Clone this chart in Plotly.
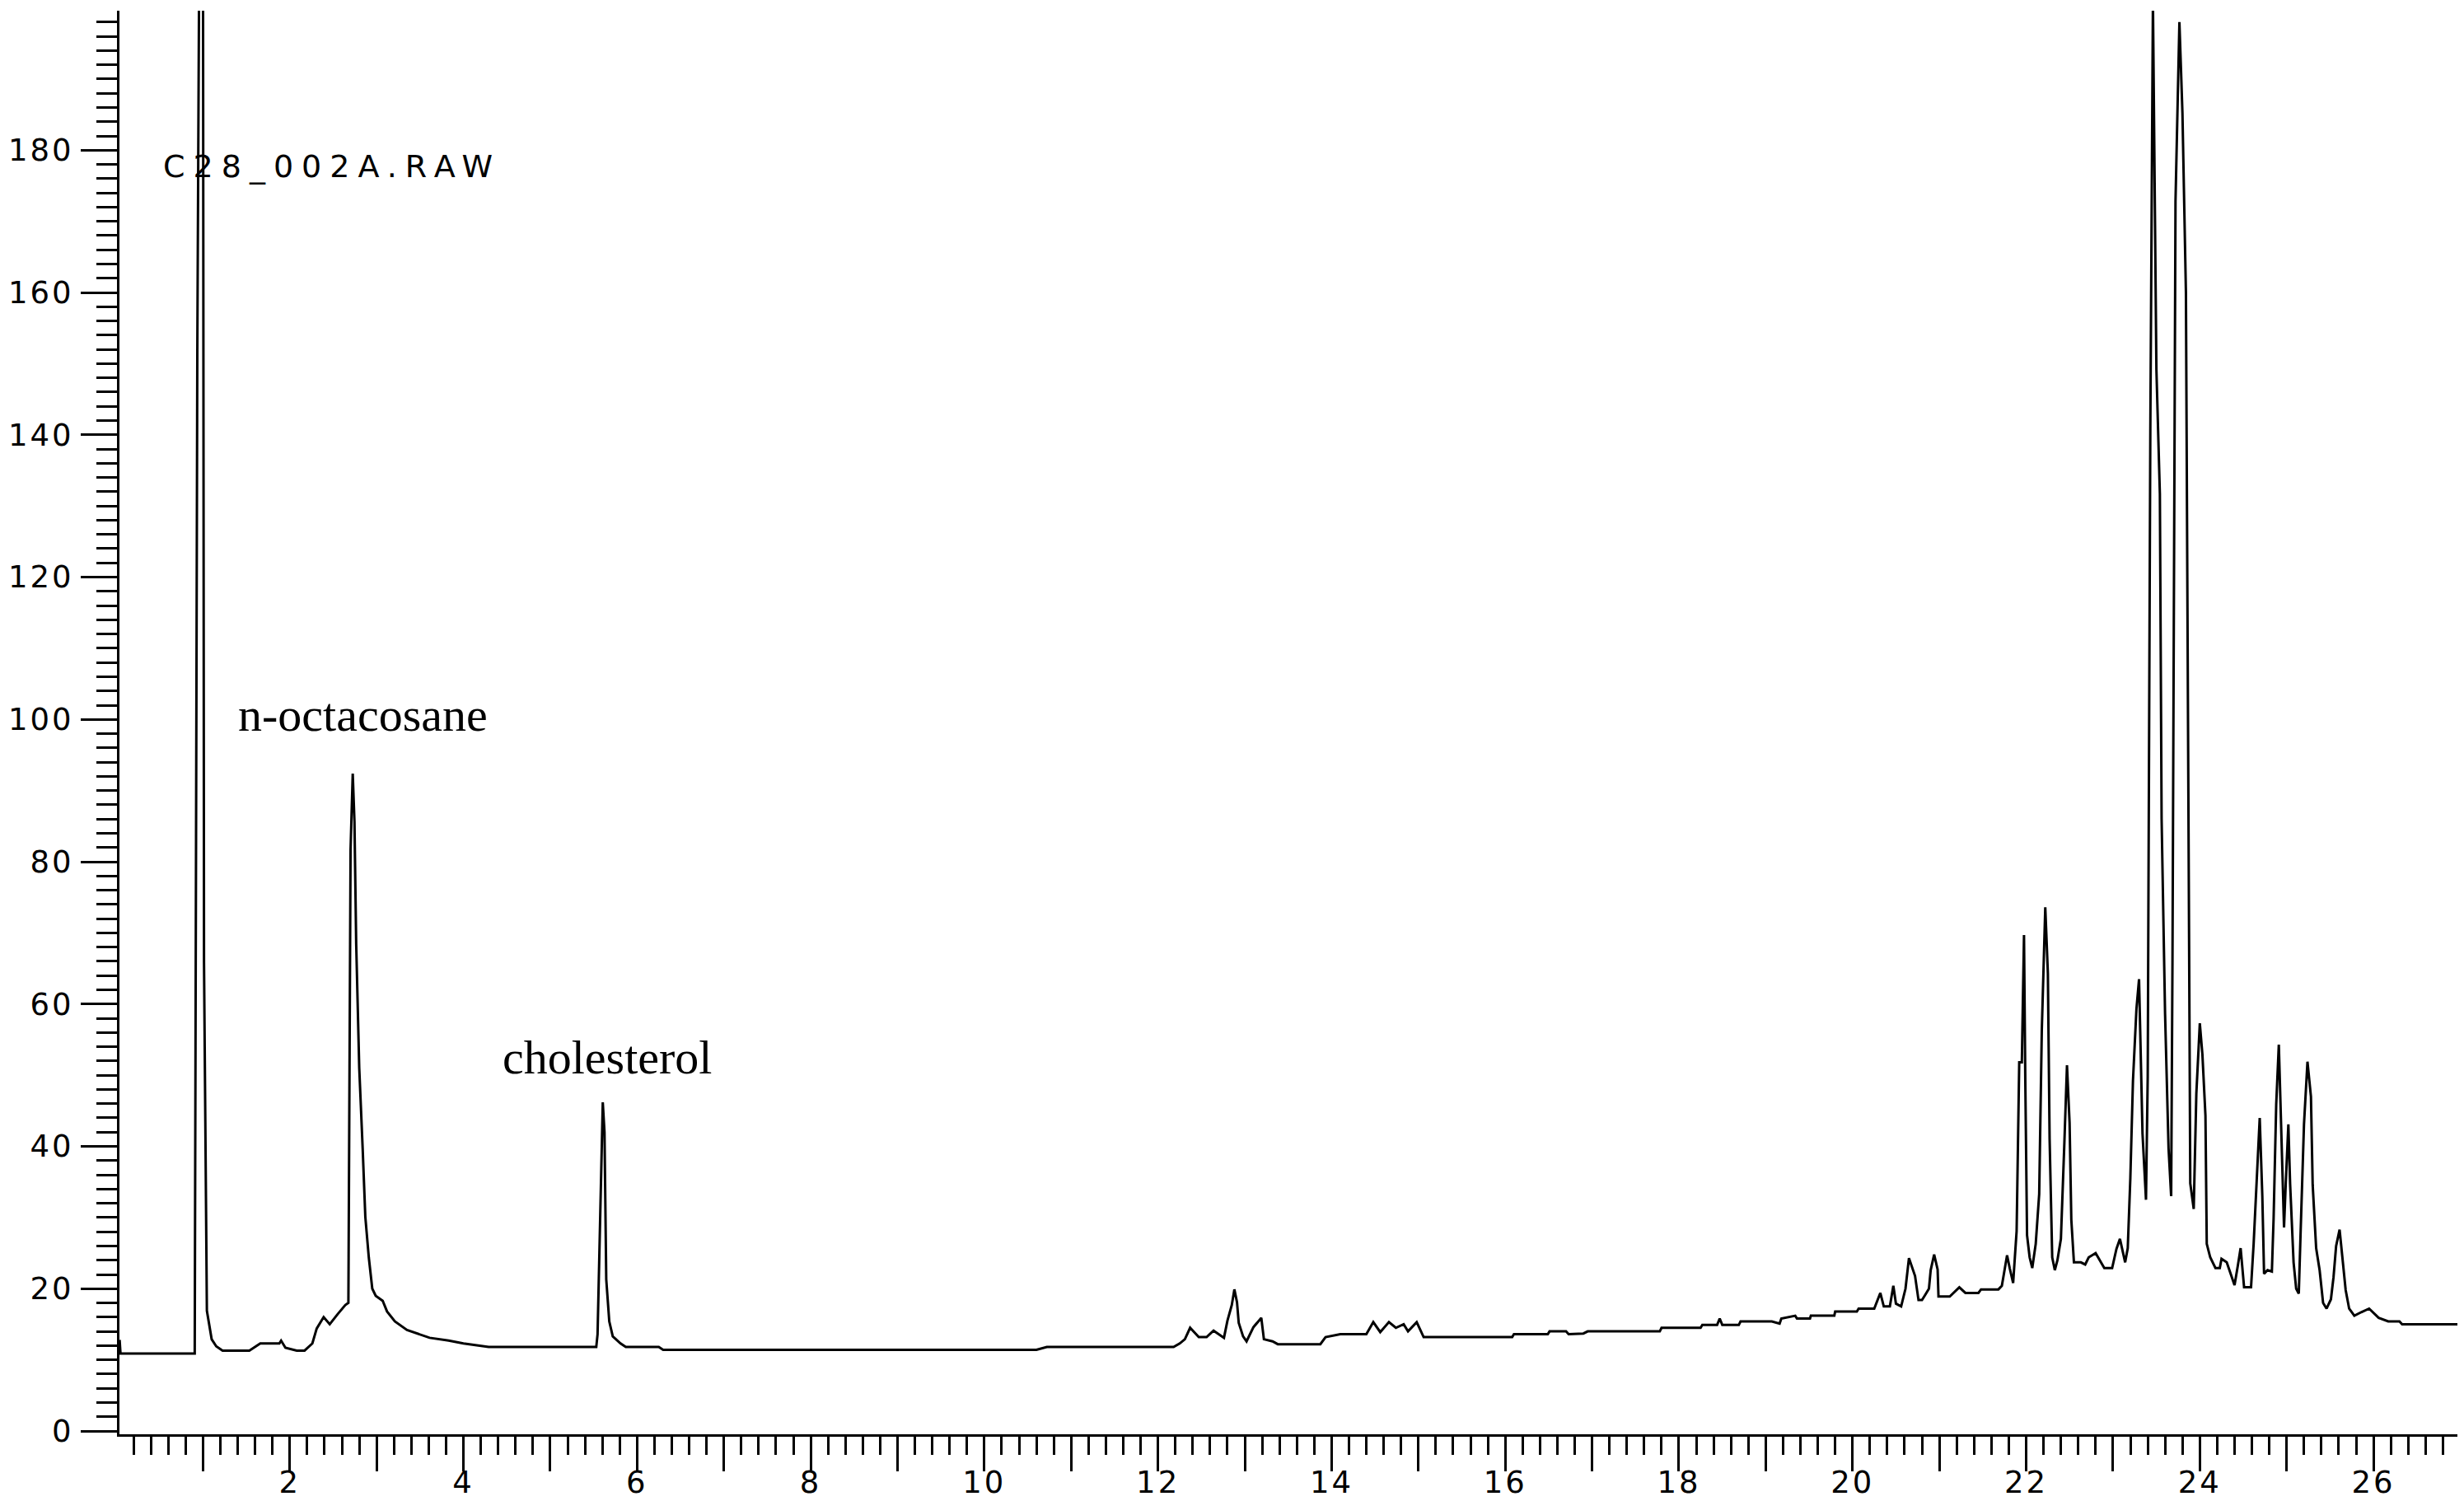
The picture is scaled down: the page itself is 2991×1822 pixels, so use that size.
import plotly.graph_objects as go

# ---------------- data ----------------
retention_time = [
    0.04, 0.05, 0.905, 0.915, 0.935, 0.96, 1.00, 1.012, 1.045, 1.10, 1.153, 1.226, 1.534,
    1.66, 1.88, 1.90, 1.95, 2.08, 2.17, 2.26, 2.31, 2.39, 2.46, 2.55, 2.64, 2.675,
    2.685, 2.70, 2.725, 2.745, 2.765, 2.80, 2.84, 2.87, 2.91, 2.95, 2.99, 3.07, 3.12,
    3.21, 3.35, 3.46, 3.61, 3.83, 4.00, 4.29, 5.53, 5.545, 5.575, 5.605, 5.625, 5.645,
    5.68, 5.72, 5.81, 5.87, 6.25, 6.30, 10.60, 10.72, 12.18, 12.25, 12.31, 12.37, 12.47,
    12.56, 12.64, 12.76, 12.80, 12.85, 12.88, 12.91, 12.93, 12.98, 13.02, 13.10, 13.19,
    13.22, 13.32, 13.38, 13.87, 13.93, 14.10, 14.40, 14.48, 14.56, 14.66, 14.74, 14.83,
    14.88, 14.98, 15.06, 16.08, 16.10, 16.49, 16.51, 16.70, 16.73, 16.90, 16.95, 17.78,
    17.80, 18.25, 18.27, 18.44, 18.47, 18.50, 18.69, 18.71, 19.07, 19.16, 19.18, 19.34,
    19.36, 19.51, 19.52, 19.79, 19.80, 20.05, 20.07, 20.25, 20.32, 20.36, 20.43, 20.47,
    20.50, 20.56, 20.61, 20.65, 20.68, 20.72, 20.76, 20.80, 20.83, 20.88, 20.90, 20.94,
    20.98, 20.99, 21.12, 21.23, 21.30, 21.45, 21.48, 21.68, 21.72, 21.75, 21.78, 21.81,
    21.85, 21.89, 21.92, 21.95, 21.975, 21.99, 22.01, 22.04, 22.07, 22.11, 22.15, 22.18,
    22.22, 22.25, 22.27, 22.30, 22.33, 22.36, 22.40, 22.44, 22.47, 22.50, 22.52, 22.55,
    22.63, 22.68, 22.72, 22.80, 22.90, 22.99, 23.04, 23.08, 23.14, 23.17, 23.20, 23.23,
    23.27, 23.30, 23.34, 23.38, 23.40, 23.43, 23.46, 23.50, 23.54, 23.56, 23.60, 23.64,
    23.67, 23.685, 23.72, 23.765, 23.80, 23.84, 23.89, 23.93, 23.96, 24.00, 24.03, 24.065,
    24.08, 24.12, 24.15, 24.18, 24.23, 24.25, 24.31, 24.36, 24.40, 24.44, 24.47, 24.51,
    24.59, 24.62, 24.66, 24.69, 24.72, 24.74, 24.78, 24.83, 24.85, 24.88, 24.91, 24.94,
    24.97, 24.99, 25.02, 25.04, 25.08, 25.11, 25.14, 25.16, 25.20, 25.24, 25.28, 25.30,
    25.34, 25.38, 25.42, 25.46, 25.51, 25.54, 25.57, 25.61, 25.64, 25.68, 25.72, 25.78,
    25.86, 25.95, 26.06, 26.17, 26.30, 26.33, 26.97,
]
intensity = [
    12.8, 10.9, 10.9, 58.0, 152.0, 215.0, 215.0, 65.8, 16.9, 12.9, 11.9, 11.3, 11.3,
    12.3, 12.3, 12.7, 11.7, 11.3, 11.3, 12.3, 14.4, 16.0, 15.0, 16.4, 17.7, 18.0,
    44.3, 81.7, 92.4, 85.6, 68.4, 51.0, 39.5, 30.1, 24.4, 20.0, 19.0, 18.3, 16.8,
    15.4, 14.2, 13.7, 13.1, 12.7, 12.3, 11.8, 11.8, 13.6, 31.0, 46.2, 42.0, 21.3,
    15.4, 13.3, 12.3, 11.8, 11.8, 11.4, 11.4, 11.8, 11.8, 12.3, 12.9, 14.5, 13.2,
    13.2, 14.1, 13.1, 15.5, 17.7, 19.9, 18.1, 15.2, 13.3, 12.6, 14.6, 15.9,
    12.9, 12.6, 12.2, 12.2, 13.2, 13.6, 13.6, 15.3, 13.9, 15.3, 14.5, 15.0,
    14.0, 15.3, 13.2, 13.2, 13.6, 13.6, 14.0, 14.0, 13.6, 13.7, 14.0, 14.0,
    14.5, 14.5, 14.9, 14.9, 15.8, 14.9, 14.9, 15.4, 15.4, 15.1, 15.8, 16.2,
    15.8, 15.8, 16.2, 16.2, 16.8, 16.8, 17.2, 17.2, 19.4, 17.5, 17.5, 20.4,
    17.9, 17.5, 20.0, 24.3, 23.3, 21.8, 18.4, 18.4, 19.0, 20.0, 22.6, 24.8,
    22.7, 18.9, 18.9, 20.2, 19.4, 19.4, 19.9, 19.9, 20.4, 22.6, 24.7, 22.9,
    20.8, 28.1, 51.8, 51.8, 69.7, 49.2, 27.5, 24.4, 22.9, 26.3, 33.3, 56.3,
    73.6, 64.3, 41.0, 24.4, 22.6, 24.0, 27.0, 40.5, 51.4, 43.3, 29.7, 23.7,
    23.7, 23.4, 24.4, 25.0, 22.9, 22.9, 25.6, 27.0, 23.7, 25.7, 35.6, 49.2,
    59.3, 63.5, 41.8, 32.5, 49.8, 140.8, 201.0, 149.2, 131.7, 86.0, 58.6, 39.7,
    33.0, 65.8, 172.8, 198.0, 185.2, 160.0, 34.8, 31.2, 47.4, 57.3, 52.9, 44.3,
    26.3, 24.4, 23.7, 22.9, 22.9, 24.2, 23.7, 21.8, 20.5, 23.4, 25.7, 20.2,
    20.2, 26.3, 37.4, 44.0, 33.0, 22.1, 22.6, 22.4, 29.9, 45.9, 54.3, 41.2,
    28.6, 34.8, 43.1, 34.8, 23.7, 20.0, 19.3, 27.5, 43.1, 51.9, 47.0, 34.6,
    25.7, 22.6, 18.0, 17.2, 18.5, 21.6, 26.0, 28.3, 24.7, 19.8, 17.2, 16.2,
    16.7, 17.2, 15.9, 15.4, 15.4, 15.0, 15.0,
]

x_major_ticks = list(range(1, 28))
x_tick_labels = [str(v) if v % 2 == 0 else "" for v in x_major_ticks]
y_major_ticks = list(range(0, 200, 10))
y_tick_labels = [str(v) if v % 20 == 0 else "" for v in y_major_ticks]
y_minor_ticks = list(range(0, 200, 2))

peak_names = ["n-octacosane", "cholesterol"]
file_name = "C28_002A.RAW"


def spaced(text, px):
    return f'<span style="letter-spacing:{px}px">{text}</span>' if text else ""


fig = go.Figure(
    go.Scatter(
        x=retention_time,
        y=intensity,
        mode="lines",
        line=dict(color="black", width=3),
        hoverinfo="skip",
    )
)

tick_font = dict(family="DejaVu Sans", size=37, color="black")

fig.update_layout(
    width=2991,
    height=1822,
    margin=dict(l=137, r=12, t=5, b=89, pad=0),
    paper_bgcolor="white",
    plot_bgcolor="white",
    showlegend=False,
    xaxis=dict(
        range=[0.038, 27.005],
        showline=True, linecolor="black", linewidth=3,
        showgrid=False, zeroline=False,
        ticks="outside", tickmode="array",
        tickvals=x_major_ticks,
        ticktext=[spaced(t, 3) for t in x_tick_labels],
        ticklen=42, tickwidth=3, tickcolor="black",
        tickfont=tick_font,
        ticklabelstandoff=-18,
        minor=dict(ticks="outside", ticklen=22, tickwidth=3, tickcolor="black",
                   tickmode="linear", tick0=0, dtick=0.2, showgrid=False),
        automargin=False,
    ),
    yaxis=dict(
        range=[-0.46, 199.6],
        showline=True, linecolor="black", linewidth=3,
        showgrid=False, zeroline=False,
        ticks="outside", tickmode="array",
        tickvals=y_major_ticks,
        ticktext=[spaced(t, 3) for t in y_tick_labels],
        ticklen=44, tickwidth=3, tickcolor="black",
        tickfont=tick_font,
        ticklabelstandoff=1,
        minor=dict(ticks="outside", ticklen=25, tickwidth=3, tickcolor="black",
                   tickmode="array", tickvals=y_minor_ticks, showgrid=False),
        automargin=False,
    ),
)

serif = dict(family="Liberation Serif", size=58, color="black")
fig.add_annotation(x=1.39, y=100.7, xref="x", yref="y", text=peak_names[0],
                   showarrow=False, xanchor="left", yanchor="middle", font=serif)
fig.add_annotation(x=4.43, y=52.5, xref="x", yref="y", text=peak_names[1],
                   showarrow=False, xanchor="left", yanchor="middle", font=serif)
fig.add_annotation(x=0.52, y=177.7, xref="x", yref="y", text=spaced(file_name, 10),
                   showarrow=False, xanchor="left", yanchor="middle",
                   font=dict(family="DejaVu Sans", size=38, color="black"))

fig.write_html("out.html")
